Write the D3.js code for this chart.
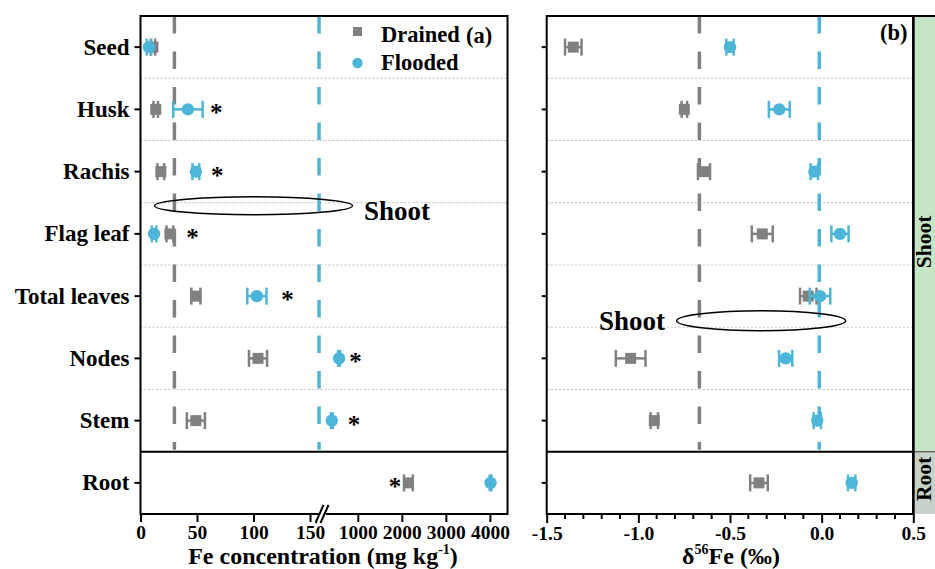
<!DOCTYPE html>
<html><head><meta charset="utf-8">
<script src="https://cdn.jsdelivr.net/npm/d3@7"></script>
<style>
body{margin:0;background:#fff;}
svg text{font-family:"Liberation Serif","Times New Roman",serif;font-weight:bold;fill:#000;}
</style></head><body>
<svg id="chart" width="935" height="569"></svg>
<script>
// ---------- data ----------
const organs = ["Seed","Husk","Rachis","Flag leaf","Total leaves","Nodes","Stem","Root"];
const series = ["Drained","Flooded"];
// Fe concentration (mg kg-1)
const feDrained      = [11, 13.5, 18, 26, 49, 104, 49, 2150];
const feDrainedErr   = [2, 2, 3, 3, 4, 8, 8, 100];
const feFlooded      = [7.5, 42, 49, 12, 103, 575, 410, 4015];
const feFloodedErr   = [2, 13, 3, 2, 8.5, 20, 20, 20];
const feStarAt       = [null, 67, 68, 46, 130, 950, 915, 1845];
const feRefDrained   = 30;
const feRefFlooded   = 158;
const feTicksLow     = [0, 50, 100, 150];
const feTicksHigh    = [1000, 2000, 3000, 4000];
// delta56Fe (permil)
const dDrained       = [-1.355, -0.749, -0.642, -0.324, -0.073, -1.042, -0.913, -0.342];
const dDrainedErr    = [0.045, 0.015, 0.033, 0.057, 0.045, 0.081, 0.02, 0.048];
const dFlooded       = [-0.50, -0.231, -0.04, 0.10, -0.009, -0.196, -0.024, 0.164];
const dFloodedErr    = [0.02, 0.057, 0.02, 0.047, 0.056, 0.036, 0.02, 0.02];
const dRefDrained    = -0.667;
const dRefFlooded    = -0.013;
const dTicks         = [-1.5, -1.0, -0.5, 0.0, 0.5];
const dMinorTicks    = d3.range(-15, 6).map(i => i / 10);
const groups         = ["Shoot", "Root"];

// ---------- styles ----------
const GRAY = "#808080", BLUE = "#4db5d8";
const svg = d3.select("#chart");
const yTop = 16, yBot = 514;

const y = d3.scaleBand().domain(organs).range([yTop, yBot]);
const yc = d => y(d) + y.bandwidth() / 2;
const rootTop = y("Root");

// left scales (broken axis)
const xA = d3.scaleLinear().domain([0, 161.5]).range([140.5, 323]);
const xB = d3.scaleLinear().domain([210, 4400]).range([323, 507.5]);
const xFe = v => v <= 185 ? xA(v) : xB(v);
// right scale
const xD = d3.scaleLinear().domain([-1.5, 0.5]).range([546.7, 913.3]);

// ---------- strip on the right ----------
svg.append("rect").attr("x", xD(0.5)).attr("y", yTop).attr("width", 30).attr("height", rootTop - yTop).attr("fill", "#c6e5c7");
svg.append("rect").attr("x", xD(0.5)).attr("y", rootTop).attr("width", 30).attr("height", yBot - rootTop).attr("fill", "#c7d1c7");
svg.append("line").attr("x1", xD(0.5)).attr("x2", 935).attr("y1", rootTop).attr("y2", rootTop).attr("stroke", "#333").attr("stroke-width", 1);
svg.append("text").attr("transform", `translate(930.5,${(yTop + rootTop) / 2 + 8}) rotate(-90)`)
  .attr("text-anchor", "middle").style("font-size", "21.5px").text(groups[0]);
svg.append("text").attr("transform", `translate(930.5,${(rootTop + yBot) / 2 - 4}) rotate(-90)`)
  .attr("text-anchor", "middle").style("font-size", "21.5px").text(groups[1]);

function panel(x, x0, x1, dataD, errD, dataF, errF, refD, refF) {
  const g = svg.append("g");
  organs.slice(1, 7).forEach(o => {
    g.append("line").attr("x1", x0).attr("x2", x1).attr("y1", y(o)).attr("y2", y(o))
      .attr("stroke", "#bdbdbd").attr("stroke-width", 1).attr("stroke-dasharray", "2,2");
  });
  [[refD, GRAY], [refF, BLUE]].forEach(([v, c]) => {
    g.append("line").attr("x1", x(v)).attr("x2", x(v)).attr("y1", yTop).attr("y2", rootTop - 2)
      .attr("stroke", c).attr("stroke-width", 3.5).attr("stroke-dasharray", "17.5,18");
  });
  const draw = (vals, errs, color, shape) => {
    organs.forEach((o, i) => {
      const cy = yc(o), v = vals[i], e = errs[i];
      const xl = x(v - e), xr = x(v + e);
      g.append("line").attr("x1", xl).attr("x2", xr).attr("y1", cy).attr("y2", cy).attr("stroke", color).attr("stroke-width", 2.5);
      [xl, xr].forEach(xx => g.append("line").attr("x1", xx).attr("x2", xx).attr("y1", cy - 8.5).attr("y2", cy + 8.5).attr("stroke", color).attr("stroke-width", 2.5));
      if (shape === "square") {
        g.append("rect").attr("x", x(v) - 5.5).attr("y", cy - 5.5).attr("width", 11).attr("height", 11).attr("fill", color);
      } else {
        g.append("circle").attr("cx", x(v)).attr("cy", cy).attr("r", 6.2).attr("fill", color);
      }
    });
  };
  draw(dataD, errD, GRAY, "square");
  draw(dataF, errF, BLUE, "circle");
  g.append("rect").attr("x", x0).attr("y", yTop).attr("width", x1 - x0).attr("height", yBot - yTop)
    .attr("fill", "none").attr("stroke", "#000").attr("stroke-width", 2);
  g.append("line").attr("x1", x0).attr("x2", x1).attr("y1", rootTop).attr("y2", rootTop).attr("stroke", "#000").attr("stroke-width", 2);
  return g;
}

panel(xFe, 140.5, 507.5, feDrained, feDrainedErr, feFlooded, feFloodedErr, feRefDrained, feRefFlooded);
panel(xD, 546.7, 913.3, dDrained, dDrainedErr, dFlooded, dFloodedErr, dRefDrained, dRefFlooded);
svg.append("line").attr("x1", 913.3).attr("x2", 913.3).attr("y1", yTop).attr("y2", yBot).attr("stroke", "#000").attr("stroke-width", 2.5);
svg.append("line").attr("x1", 913.3).attr("x2", 935).attr("y1", yTop).attr("y2", yTop).attr("stroke", "#000").attr("stroke-width", 2);

// stars
organs.forEach((o, i) => {
  if (feStarAt[i] == null) return;
  svg.append("text").attr("x", xFe(feStarAt[i])).attr("y", yc(o) + 12).attr("text-anchor", "middle")
    .style("font-size", "25px").text("*");
});

// y axes
const yAxL = svg.append("g").attr("transform", "translate(140.5,0)")
  .call(d3.axisLeft(y).tickSize(6).tickSizeOuter(0).tickPadding(5));
yAxL.select(".domain").remove();
yAxL.selectAll("line").attr("stroke-width", 2);
yAxL.selectAll("text").style("font-size", "23px").attr("dy", "0.33em");
const yAxR = svg.append("g").attr("transform", "translate(546.7,0)")
  .call(d3.axisLeft(y).tickSize(5).tickSizeOuter(0).tickFormat(""));
yAxR.select(".domain").remove();
yAxR.selectAll("line").attr("stroke-width", 2);

// x axes left (broken)
[[xA, feTicksLow], [xB, feTicksHigh]].forEach(([sc, tv]) => {
  const a = svg.append("g").attr("transform", `translate(0,${yBot})`)
    .call(d3.axisBottom(sc).tickValues(tv).tickSize(8).tickSizeOuter(0).tickPadding(3).tickFormat(d3.format("d")));
  a.select(".domain").remove();
  a.selectAll("line").attr("stroke-width", 2);
  a.selectAll("text").style("font-size", "19.5px");
});
const bx = xA(161.5);
svg.append("rect").attr("x", bx - 3).attr("y", yBot - 3).attr("width", 6).attr("height", 6).attr("fill", "#fff");
[-3.5, 1.5].forEach(o => {
  svg.append("line").attr("x1", bx + o - 4).attr("y1", yBot + 9).attr("x2", bx + o + 4).attr("y2", yBot - 9)
    .attr("stroke", "#000").attr("stroke-width", 2);
});

// x axis right
const aR = svg.append("g").attr("transform", `translate(0,${yBot})`)
  .call(d3.axisBottom(xD).tickValues(dTicks).tickSize(9).tickSizeOuter(0).tickPadding(3).tickFormat(d => d.toFixed(1)));
aR.select(".domain").remove();
aR.selectAll("line").attr("stroke-width", 2);
aR.selectAll("text").style("font-size", "19.5px");
svg.append("g").selectAll("line").data(dMinorTicks.filter(v => !dTicks.some(t => Math.abs(t - v) < 1e-9))).join("line")
  .attr("x1", d => xD(d)).attr("x2", d => xD(d)).attr("y1", yBot).attr("y2", yBot + 5)
  .attr("stroke", "#000").attr("stroke-width", 2);

// axis titles
const t1 = svg.append("text").attr("x", 323).attr("y", 564).attr("text-anchor", "middle").style("font-size", "24px");
t1.append("tspan").text("Fe concentration (mg kg");
t1.append("tspan").attr("dy", -10).style("font-size", "14px").text("-1");
t1.append("tspan").attr("dy", 10).text(")");
const t2 = svg.append("text").attr("x", 731).attr("y", 564).attr("text-anchor", "middle").style("font-size", "24px");
t2.append("tspan").text("δ");
t2.append("tspan").attr("dy", -10).style("font-size", "14px").text("56");
t2.append("tspan").attr("dy", 10).text("Fe (‰)");

// legend
svg.append("rect").attr("x", 353).attr("y", 27).attr("width", 9).attr("height", 9).attr("fill", GRAY);
svg.append("circle").attr("cx", 357.5).attr("cy", 63).attr("r", 5.2).attr("fill", BLUE);
svg.append("text").attr("x", 381).attr("y", 42).style("font-size", "22.5px").text(series[0]);
svg.append("text").attr("x", 381).attr("y", 70).style("font-size", "22.5px").text(series[1]);
svg.append("text").attr("x", 466).attr("y", 43).style("font-size", "22.5px").text("(a)");
svg.append("text").attr("x", 880).attr("y", 40).style("font-size", "22.5px").text("(b)");

// Shoot annotations
svg.append("ellipse").attr("cx", xFe(100)).attr("cy", y("Flag leaf") + 3).attr("rx", 99).attr("ry", 9)
  .attr("fill", "none").attr("stroke", "#000").attr("stroke-width", 1.5);
svg.append("text").attr("x", 364).attr("y", 220).style("font-size", "27px").text("Shoot");
svg.append("ellipse").attr("cx", xD(-0.33)).attr("cy", y("Nodes") - 6.5).attr("rx", 84.5).attr("ry", 10)
  .attr("fill", "none").attr("stroke", "#000").attr("stroke-width", 1.5);
svg.append("text").attr("x", 599).attr("y", 330).style("font-size", "27px").text("Shoot");
</script>
</body></html>
